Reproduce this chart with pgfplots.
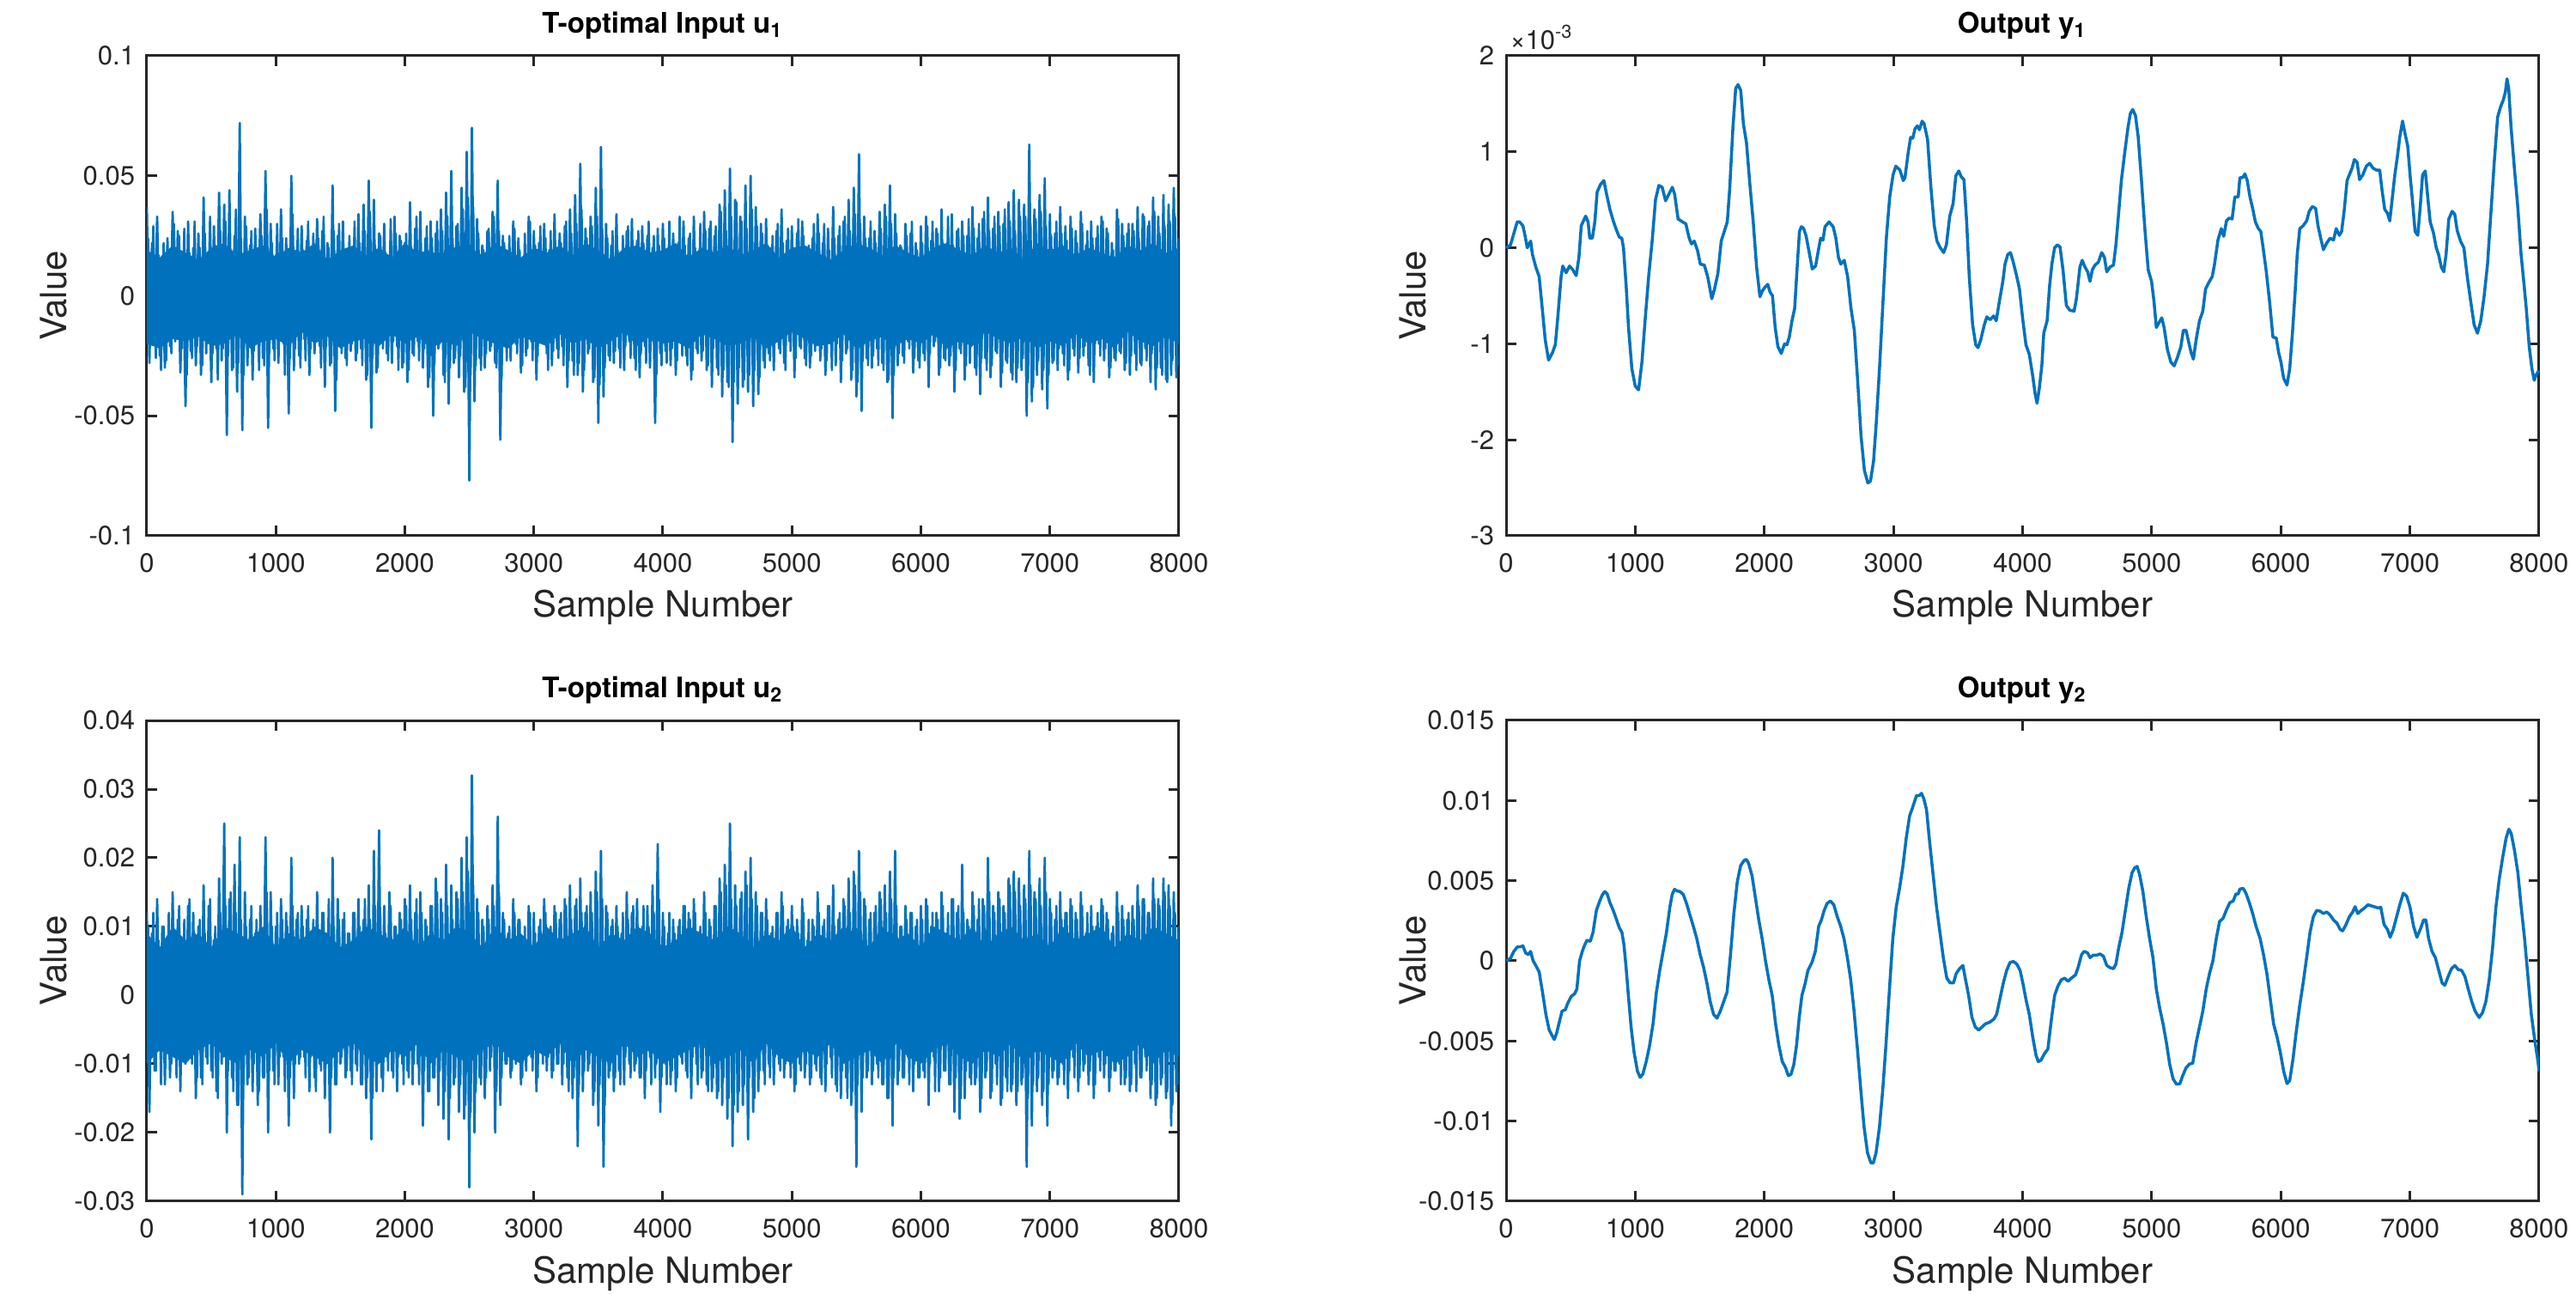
\documentclass[border=0pt]{standalone}
\usepackage{fontspec}
\setmainfont{TeX Gyre Heros}
\usepackage{pgfplots}
\pgfplotsset{compat=1.18}
\definecolor{mblue}{rgb}{0,0.447,0.741}
\definecolor{maxis}{rgb}{0.15,0.15,0.15}
\pgfplotsset{mstyle/.style={
  scale only axis, anchor=south west,
  xmin=0, xmax=8000, xtick={0,1000,...,8000},
  xticklabels={0,1000,2000,3000,4000,5000,6000,7000,8000},
  tick align=inside, major tick length=2.4pt,
  every tick/.style={maxis, line width=0.6pt},
  axis line style={maxis, line width=0.6pt},
  tick label style={font=\fontsize{6.2}{7}\selectfont, text=maxis},
  xticklabel style={anchor=base, yshift=-8.6pt, inner sep=0pt},
  yticklabel style={anchor=east, xshift=-2.6pt, inner sep=0pt},
  every axis title shift=0pt,
  title style={at={(0.5,1.048)}, anchor=base, inner sep=0pt, font=\bfseries\fontsize{6.6}{7.5}\selectfont},
  xlabel style={at={(0.5,-0.17)}, anchor=base, inner sep=0pt, font=\fontsize{8.4}{9}\selectfont, text=maxis},
  every axis y label/.style={at={(axis description cs:-0.078,0.5)}, anchor=base, rotate=90, inner sep=0pt, font=\fontsize{8.4}{9}\selectfont, text=maxis},
  xlabel={Sample Number}, ylabel={Value},
  every axis plot/.append style={mblue, line join=round, mark=none},
}}
\begin{document}
\begin{tikzpicture}
\useasboundingbox (0,0) rectangle (600pt,301.4pt);
% ---------- u1 ----------
\begin{axis}[mstyle, at={(34.2pt,176.6pt)}, width=240.4pt, height=111.8pt,
  ymin=-100, ymax=100, ytick={-100,-50,0,50,100},
  yticklabels={-0.1,-0.05,0,0.05,0.1},
  title={T-optimal Input u\textsubscript{1}}]
\addplot[fill=mblue, draw=none] coordinates {
(0,19)(100,16)(200,21)(300,18)(400,15)(500,20)(600,22)(700,17)(800,19)(900,21)(1000,16)(1100,20)(1200,18)(1300,22)(1400,15)(1500,19)(1600,21)(1700,17)(1800,20)(1900,16)(2000,22)(2100,18)(2200,19)(2300,15)(2400,21)(2500,20)(2600,17)(2700,22)(2800,19)(2900,16)(3000,20)(3100,18)(3200,21)(3300,17)(3400,22)(3500,19)(3600,15)(3700,20)(3800,21)(3900,18)(4000,19)(4100,22)(4200,16)(4300,20)(4400,18)(4500,21)(4600,17)(4700,19)(4800,22)(4900,16)(5000,20)(5100,21)(5200,18)(5300,15)(5400,19)(5500,22)(5600,20)(5700,17)(5800,21)(5900,18)(6000,16)(6100,20)(6200,22)(6300,19)(6400,17)(6500,21)(6600,18)(6700,20)(6800,15)(6900,22)(7000,19)(7100,21)(7200,17)(7300,20)(7400,18)(7500,16)(7600,21)(7700,19)(7800,22)(7900,18)(8000,20)
(8000,-20)(7900,-17)(7800,-21)(7700,-19)(7600,-15)(7500,-22)(7400,-18)(7300,-20)(7200,-16)(7100,-21)(7000,-19)(6900,-22)(6800,-17)(6700,-20)(6600,-18)(6500,-15)(6400,-21)(6300,-19)(6200,-22)(6100,-16)(6000,-20)(5900,-18)(5800,-21)(5700,-17)(5600,-19)(5500,-22)(5400,-16)(5300,-20)(5200,-21)(5100,-18)(5000,-15)(4900,-19)(4800,-22)(4700,-17)(4600,-20)(4500,-21)(4400,-18)(4300,-16)(4200,-22)(4100,-19)(4000,-20)(3900,-17)(3800,-21)(3700,-15)(3600,-19)(3500,-22)(3400,-18)(3300,-20)(3200,-16)(3100,-21)(3000,-19)(2900,-17)(2800,-22)(2700,-20)(2600,-18)(2500,-15)(2400,-21)(2300,-19)(2200,-22)(2100,-17)(2000,-20)(1900,-16)(1800,-21)(1700,-18)(1600,-19)(1500,-22)(1400,-17)(1300,-20)(1200,-15)(1100,-21)(1000,-18)(900,-19)(800,-22)(700,-16)(600,-20)(500,-21)(400,-17)(300,-19)(200,-18)(100,-22)(0,-20)
} -- cycle;
\addplot[line width=0.5pt] table[x expr=\coordindex*20+10, y index=0, header=false, row sep=\\] {
24\\-19\\29\\-26\\17\\-31\\22\\-27\\19\\-24\\30\\-17\\25\\-22\\28\\-33\\18\\-26\\31\\-21\\
20\\-29\\26\\-18\\33\\-24\\21\\-35\\27\\-22\\31\\-25\\19\\-30\\36\\-28\\24\\-33\\29\\-19\\
27\\-23\\18\\-31\\25\\-29\\36\\-24\\22\\-27\\30\\-18\\24\\-33\\19\\-26\\34\\-22\\28\\-30\\
19\\-27\\31\\-22\\26\\-18\\24\\-30\\33\\-21\\20\\-28\\27\\-35\\30\\-24\\18\\-29\\25\\-20\\
31\\-24\\22\\-29\\27\\-33\\35\\-26\\21\\-30\\25\\-22\\18\\-27\\32\\-19\\26\\-31\\23\\-28\\
26\\-31\\20\\-25\\33\\-27\\18\\-22\\29\\-34\\24\\-28\\31\\-20\\27\\-36\\33\\-30\\24\\-26\\
30\\-25\\36\\-38\\41\\-33\\37\\-29\\26\\-31\\19\\-24\\28\\-21\\33\\-30\\27\\-35\\22\\-27\\
25\\-20\\28\\-24\\19\\-29\\26\\-22\\31\\-27\\21\\-25\\29\\-19\\24\\-31\\27\\-23\\20\\-26\\
22\\-29\\31\\-27\\26\\-33\\30\\-28\\36\\-31\\24\\-22\\29\\-34\\33\\-37\\28\\-30\\24\\-27\\
27\\-23\\19\\-30\\25\\-21\\29\\-26\\20\\-31\\27\\-24\\22\\-28\\31\\-19\\25\\-33\\21\\-29\\
24\\-28\\31\\-22\\19\\-27\\33\\-25\\21\\-29\\26\\-31\\20\\-24\\30\\-23\\27\\-29\\31\\-22\\
29\\-33\\35\\-31\\27\\-38\\33\\-36\\39\\-30\\31\\-35\\28\\-33\\36\\-31\\29\\-34\\26\\-30\\
21\\-27\\25\\-19\\30\\-24\\22\\-31\\28\\-23\\19\\-26\\32\\-22\\25\\-29\\21\\-25\\30\\-18\\
26\\-22\\30\\-27\\19\\-31\\24\\-20\\29\\-27\\33\\-22\\27\\-31\\34\\-36\\30\\-27\\24\\-29\\
31\\-25\\22\\-29\\28\\-31\\33\\-35\\30\\-33\\26\\-24\\20\\-28\\25\\-22\\31\\-26\\19\\-30\\
22\\-27\\29\\-24\\31\\-19\\26\\-30\\22\\-27\\33\\-25\\21\\-31\\28\\-24\\25\\-29\\32\\-21\\
28\\-33\\30\\-26\\35\\-31\\27\\-29\\33\\-24\\29\\-32\\36\\-28\\31\\-35\\27\\-30\\33\\-26\\
33\\-36\\30\\-38\\32\\-27\\35\\-31\\29\\-33\\25\\-27\\31\\-22\\26\\-29\\23\\-31\\28\\-25\\
22\\-26\\30\\-21\\27\\-33\\24\\-20\\29\\-25\\31\\-22\\26\\-30\\19\\-27\\32\\-24\\25\\-28\\
30\\-25\\27\\-31\\24\\-29\\33\\-27\\31\\-24\\35\\-30\\26\\-33\\29\\-36\\31\\-27\\33\\-29\\
};
\addplot[line width=0.55pt] table[x expr=\coordindex*20, y index=0, header=false, row sep=\\] {
37\\-28\\22\\-18\\33\\-25\\16\\-30\\24\\-21\\35\\-19\\27\\-32\\14\\-46\\31\\-23\\20\\-29\\
26\\-33\\41\\-24\\18\\-36\\29\\-22\\43\\-27\\38\\-58\\44\\-31\\25\\-40\\72\\-56\\33\\-29\\
21\\-35\\28\\-19\\34\\-26\\52\\-55\\30\\-22\\17\\-28\\36\\-20\\24\\-49\\50\\-31\\19\\-25\\
29\\-18\\23\\-33\\15\\-24\\32\\-21\\27\\-38\\22\\-29\\46\\-48\\25\\-20\\31\\-26\\18\\-23\\
20\\-27\\34\\-22\\38\\-35\\48\\-55\\40\\-32\\26\\-19\\30\\-24\\16\\-28\\33\\-21\\25\\-30\\
22\\-36\\39\\-24\\28\\-19\\35\\-30\\24\\-38\\31\\-50\\26\\-22\\36\\-33\\43\\-45\\52\\-28\\
29\\-34\\45\\-40\\60\\-77\\70\\-44\\32\\-26\\21\\-30\\27\\-23\\35\\-28\\48\\-60\\25\\-21\\
18\\-27\\31\\-20\\24\\-32\\16\\-25\\33\\-19\\27\\-35\\22\\-18\\30\\-24\\19\\-29\\34\\-22\\
26\\-21\\29\\-38\\36\\-27\\42\\-33\\55\\-40\\28\\-24\\33\\-36\\45\\-53\\62\\-42\\30\\-25\\
21\\-28\\34\\-22\\18\\-31\\27\\-19\\32\\-26\\23\\-34\\29\\-21\\25\\-30\\20\\-53\\28\\-24\\
30\\-23\\19\\-29\\26\\-33\\22\\-18\\31\\-25\\24\\-35\\33\\-22\\17\\-27\\35\\-31\\28\\-38\\
25\\-30\\38\\-42\\44\\-36\\53\\-61\\40\\-45\\33\\-38\\46\\-40\\50\\-46\\37\\-41\\30\\-27\\
32\\-24\\20\\-31\\27\\-22\\36\\-28\\23\\-19\\29\\-34\\26\\-21\\31\\-26\\18\\-30\\24\\-23\\
34\\-27\\22\\-33\\28\\-20\\37\\-29\\25\\-36\\31\\-24\\40\\-35\\45\\-42\\59\\-48\\33\\-26\\
24\\-30\\27\\-22\\35\\-28\\38\\-36\\46\\-51\\34\\-29\\21\\-25\\30\\-19\\26\\-32\\22\\-27\\
29\\-24\\33\\-38\\23\\-21\\28\\-33\\36\\-26\\20\\-29\\34\\-40\\27\\-22\\31\\-35\\25\\-28\\
37\\-30\\24\\-41\\32\\-26\\41\\-34\\28\\-23\\35\\-38\\30\\-27\\39\\-32\\44\\-36\\40\\-31\\
38\\-50\\63\\-44\\36\\-33\\42\\-39\\49\\-47\\34\\-28\\26\\-31\\37\\-24\\29\\-35\\33\\-22\\
27\\-32\\35\\-25\\21\\-29\\31\\-36\\24\\-20\\33\\-27\\28\\-34\\22\\-26\\36\\-23\\30\\-31\\
26\\-33\\30\\-24\\37\\-28\\34\\-22\\29\\-36\\41\\-39\\33\\-30\\42\\-35\\38\\-33\\45\\-34\\24\\
};
\end{axis}
% ---------- y1 ----------
\begin{axis}[mstyle, at={(350.8pt,176.6pt)}, width=240.6pt, height=111.8pt,
  ymin=-3, ymax=2, ytick={-3,-2,-1,0,1,2},
  yticklabels={-3,-2,-1,0,1,2}, clip=false,
  title={Output y\textsubscript{1}}]
\addplot[line width=0.7pt] coordinates {
(0,0.0)(34,0.03)(86,0.27)(104,0.27)(130,0.23)(146,0.13)(164,0)(178,0.04)(190,0.07)(204,-0.07)(230,-0.2)(256,-0.3)(282,-0.66)(303,-0.96)(329,-1.17)(360,-1.09)(381,-1.01)(400,-0.73)(426,-0.3)(439,-0.19)(465,-0.26)(491,-0.19)(517,-0.23)(543,-0.29)(564,-0.1)(582,0.23)(616,0.33)(635,0.27)(648,0.1)(668,0.1)(687,0.27)(705,0.58)(731,0.66)(757,0.7)(778,0.56)(804,0.4)(830,0.28)(856,0.18)(877,0.11)(896,0.1)(909,0)(930,-0.4)(948,-0.83)(974,-1.26)(1000,-1.44)(1026,-1.48)(1052,-1.19)(1078,-0.73)(1104,-0.3)(1131,0.07)(1157,0.5)(1183,0.65)(1209,0.63)(1235,0.49)(1261,0.56)(1287,0.63)(1305,0.56)(1332,0.3)(1366,0.27)(1392,0.25)(1418,0.1)(1436,0.04)(1457,0.07)(1483,-0.03)(1504,-0.17)(1535,-0.18)(1561,-0.3)(1593,-0.53)(1614,-0.43)(1640,-0.27)(1666,0.07)(1692,0.18)(1713,0.27)(1731,0.6)(1757,1.26)(1778,1.66)(1796,1.7)(1817,1.64)(1838,1.29)(1862,1.09)(1888,0.66)(1914,0.27)(1940,-0.2)(1966,-0.51)(1984,-0.45)(2005,-0.41)(2026,-0.38)(2044,-0.46)(2063,-0.5)(2084,-0.83)(2105,-1.03)(2131,-1.1)(2157,-1.0)(2175,-1.01)(2193,-0.93)(2214,-0.76)(2235,-0.63)(2253,-0.23)(2272,0.17)(2287,0.22)(2305,0.2)(2324,0.12)(2345,-0.03)(2371,-0.22)(2397,-0.19)(2418,-0.03)(2436,0.1)(2454,0.08)(2470,0.22)(2501,0.27)(2533,0.22)(2554,0.1)(2574,-0.1)(2592,-0.17)(2619,-0.13)(2645,-0.3)(2671,-0.63)(2697,-0.86)(2723,-1.39)(2749,-1.96)(2775,-2.32)(2802,-2.45)(2822,-2.43)(2846,-2.22)(2867,-1.82)(2893,-1.23)(2919,-0.56)(2945,0.1)(2971,0.53)(2997,0.76)(3018,0.85)(3050,0.81)(3076,0.7)(3089,0.73)(3115,1.0)(3133,1.15)(3149,1.14)(3167,1.24)(3185,1.27)(3201,1.23)(3222,1.32)(3238,1.29)(3264,1.13)(3290,0.63)(3316,0.23)(3337,0.07)(3363,0)(3389,-0.05)(3410,0.03)(3436,0.33)(3462,0.46)(3483,0.75)(3506,0.8)(3525,0.74)(3546,0.71)(3567,0.27)(3587,-0.3)(3613,-0.8)(3637,-1.01)(3655,-1.04)(3676,-0.96)(3702,-0.81)(3723,-0.72)(3749,-0.75)(3775,-0.71)(3796,-0.76)(3820,-0.56)(3846,-0.36)(3864,-0.17)(3885,-0.07)(3906,-0.05)(3924,-0.13)(3950,-0.27)(3976,-0.43)(4000,-0.73)(4026,-1.01)(4052,-1.11)(4078,-1.33)(4097,-1.52)(4112,-1.62)(4130,-1.46)(4149,-1.23)(4164,-0.89)(4190,-0.76)(4209,-0.40)(4227,-0.17)(4248,0.0)(4269,0.03)(4290,0.01)(4313,-0.23)(4339,-0.6)(4365,-0.65)(4399,-0.66)(4417,-0.53)(4444,-0.2)(4462,-0.13)(4483,-0.2)(4504,-0.25)(4522,-0.35)(4540,-0.23)(4561,-0.18)(4587,-0.15)(4613,-0.05)(4634,-0.1)(4652,-0.25)(4678,-0.2)(4704,-0.18)(4723,0.03)(4744,0.36)(4765,0.7)(4791,0.99)(4817,1.26)(4835,1.4)(4853,1.44)(4874,1.38)(4895,1.16)(4921,0.7)(4947,0.2)(4973,-0.23)(4999,-0.35)(5018,-0.56)(5036,-0.83)(5057,-0.78)(5078,-0.73)(5096,-0.83)(5122,-1.06)(5148,-1.19)(5174,-1.23)(5200,-1.14)(5226,-1.03)(5245,-0.86)(5266,-0.86)(5286,-0.98)(5305,-1.09)(5323,-1.16)(5344,-0.96)(5370,-0.76)(5396,-0.66)(5417,-0.43)(5443,-0.36)(5469,-0.3)(5487,-0.17)(5513,0.08)(5539,0.2)(5558,0.12)(5579,0.28)(5600,0.31)(5623,0.3)(5644,0.53)(5670,0.53)(5683,0.73)(5704,0.73)(5722,0.77)(5740,0.7)(5761,0.53)(5782,0.41)(5803,0.27)(5826,0.2)(5845,0.17)(5866,-0.03)(5886,-0.23)(5913,-0.56)(5939,-0.93)(5965,-0.94)(5983,-1.09)(6001,-1.19)(6022,-1.36)(6048,-1.43)(6069,-1.26)(6090,-0.89)(6111,-0.46)(6127,-0.07)(6147,0.2)(6173,0.23)(6200,0.28)(6220,0.38)(6244,0.43)(6270,0.41)(6288,0.23)(6309,0.1)(6330,-0.02)(6356,0.05)(6382,0.1)(6408,0.08)(6429,0.2)(6453,0.13)(6471,0.17)(6492,0.4)(6513,0.7)(6531,0.76)(6552,0.83)(6570,0.92)(6591,0.89)(6610,0.71)(6635,0.76)(6662,0.85)(6688,0.88)(6714,0.83)(6740,0.81)(6766,0.81)(6784,0.6)(6805,0.4)(6826,0.36)(6844,0.28)(6862,0.5)(6883,0.76)(6904,0.96)(6922,1.16)(6943,1.32)(6962,1.19)(6983,1.06)(7001,0.76)(7019,0.5)(7040,0.17)(7061,0.13)(7080,0.43)(7098,0.76)(7119,0.8)(7140,0.5)(7157,0.27)(7183,0.15)(7204,0.0)(7222,-0.07)(7243,-0.2)(7262,-0.25)(7280,-0.07)(7301,0.3)(7327,0.38)(7347,0.35)(7366,0.18)(7392,0.07)(7418,0.0)(7444,-0.3)(7471,-0.56)(7497,-0.8)(7523,-0.89)(7549,-0.76)(7575,-0.5)(7601,-0.17)(7627,0.36)(7653,0.89)(7679,1.36)(7700,1.46)(7723,1.54)(7739,1.62)(7752,1.76)(7765,1.66)(7783,1.26)(7809,0.83)(7835,0.43)(7861,-0.07)(7885,-0.4)(7901,-0.63)(7924,-1.03)(7945,-1.26)(7963,-1.38)(7976,-1.33)(7997,-1.28)
};
\node[anchor=base west, inner sep=0pt, text=maxis, font=\fontsize{6.2}{7}\selectfont] at (rel axis cs:0.003,1.0143) {×10\textsuperscript{-3}};
\end{axis}
% ---------- u2 ----------
\begin{axis}[mstyle, at={(34.2pt,21.6pt)}, width=240.4pt, height=112pt,
  ymin=-30, ymax=40, ytick={-30,-20,...,40},
  yticklabels={-0.03,-0.02,-0.01,0,0.01,0.02,0.03,0.04},
  title={T-optimal Input u\textsubscript{2}}]
\addplot[fill=mblue, draw=none] coordinates {
(0,9)(100,7)(200,10)(300,8)(400,9)(500,7)(600,10)(700,9)(800,8)(900,10)(1000,7)(1100,9)(1200,8)(1300,10)(1400,9)(1500,7)(1600,8)(1700,10)(1800,9)(1900,8)(2000,10)(2100,7)(2200,9)(2300,8)(2400,10)(2500,9)(2600,7)(2700,10)(2800,8)(2900,9)(3000,7)(3100,10)(3200,8)(3300,9)(3400,10)(3500,7)(3600,9)(3700,8)(3800,10)(3900,9)(4000,7)(4100,8)(4200,10)(4300,9)(4400,8)(4500,10)(4600,9)(4700,7)(4800,9)(4900,8)(5000,10)(5100,7)(5200,9)(5300,8)(5400,10)(5500,9)(5600,7)(5700,10)(5800,8)(5900,9)(6000,7)(6100,10)(6200,9)(6300,8)(6400,10)(6500,7)(6600,9)(6700,10)(6800,8)(6900,9)(7000,7)(7100,10)(7200,8)(7300,9)(7400,10)(7500,7)(7600,9)(7700,8)(7800,10)(7900,9)(8000,8)
(8000,-9)(7900,-8)(7800,-10)(7700,-7)(7600,-9)(7500,-10)(7400,-8)(7300,-9)(7200,-7)(7100,-10)(7000,-9)(6900,-8)(6800,-10)(6700,-7)(6600,-9)(6500,-8)(6400,-10)(6300,-9)(6200,-7)(6100,-8)(6000,-10)(5900,-9)(5800,-7)(5700,-10)(5600,-8)(5500,-9)(5400,-10)(5300,-7)(5200,-9)(5100,-8)(5000,-10)(4900,-9)(4800,-7)(4700,-10)(4600,-8)(4500,-9)(4400,-10)(4300,-7)(4200,-8)(4100,-9)(4000,-10)(3900,-8)(3800,-9)(3700,-7)(3600,-10)(3500,-9)(3400,-8)(3300,-10)(3200,-7)(3100,-9)(3000,-8)(2900,-10)(2800,-9)(2700,-7)(2600,-8)(2500,-10)(2400,-9)(2300,-8)(2200,-10)(2100,-7)(2000,-9)(1900,-8)(1800,-10)(1700,-9)(1600,-7)(1500,-8)(1400,-10)(1300,-9)(1200,-8)(1100,-10)(1000,-7)(900,-9)(800,-8)(700,-10)(600,-9)(500,-7)(400,-8)(300,-10)(200,-9)(100,-8)(0,-10)
} -- cycle;
\addplot[line width=0.5pt] table[x expr=\coordindex*20+10, y index=0, header=false, row sep=\\] {
10\\-9\\12\\-11\\8\\-13\\10\\-8\\12\\-10\\9\\-12\\13\\-9\\11\\-8\\14\\-10\\9\\-12\\
11\\-13\\9\\-10\\14\\-12\\10\\-15\\12\\-9\\13\\-11\\15\\-14\\12\\-16\\11\\-13\\10\\-12\\
13\\-10\\11\\-14\\9\\-12\\15\\-11\\10\\-13\\12\\-9\\11\\-14\\10\\-12\\13\\-10\\12\\-9\\
10\\-12\\13\\-9\\11\\-14\\9\\-11\\12\\-10\\14\\-12\\10\\-13\\11\\-9\\12\\-11\\9\\-13\\
12\\-11\\10\\-13\\14\\-12\\11\\-15\\13\\-10\\12\\-14\\9\\-11\\13\\-12\\10\\-9\\11\\-13\\
13\\-12\\11\\-10\\14\\-13\\12\\-11\\10\\-14\\13\\-12\\15\\-11\\12\\-14\\13\\-15\\11\\-12\\
14\\-13\\15\\-16\\18\\-17\\16\\-14\\12\\-13\\10\\-12\\11\\-9\\13\\-14\\15\\-12\\11\\-10\\
10\\-11\\12\\-9\\11\\-12\\10\\-8\\12\\-11\\9\\-12\\11\\-10\\12\\-9\\10\\-11\\12\\-10\\
12\\-10\\13\\-14\\11\\-12\\14\\-13\\12\\-11\\13\\-10\\12\\-14\\15\\-13\\14\\-16\\12\\-11\\
11\\-12\\10\\-13\\12\\-9\\11\\-12\\13\\-10\\9\\-12\\13\\-11\\10\\-13\\12\\-10\\14\\-12\\
10\\-13\\12\\-11\\9\\-12\\11\\-10\\13\\-12\\11\\-9\\12\\-13\\10\\-11\\12\\-14\\10\\-12\\
13\\-14\\15\\-12\\16\\-15\\14\\-16\\13\\-14\\15\\-13\\16\\-12\\14\\-15\\13\\-11\\12\\-13\\
11\\-12\\10\\-9\\12\\-11\\13\\-10\\11\\-12\\10\\-13\\9\\-11\\12\\-10\\11\\-12\\10\\-11\\
12\\-13\\11\\-10\\13\\-12\\10\\-14\\12\\-11\\13\\-15\\12\\-14\\16\\-13\\15\\-12\\13\\-11\\
12\\-11\\13\\-12\\14\\-13\\12\\-15\\14\\-12\\13\\-11\\10\\-12\\11\\-13\\12\\-10\\11\\-12\\
11\\-12\\13\\-10\\12\\-14\\11\\-12\\13\\-11\\12\\-13\\14\\-12\\13\\-15\\12\\-11\\10\\-13\\
13\\-12\\14\\-15\\13\\-11\\15\\-14\\12\\-13\\14\\-15\\12\\-14\\16\\-13\\15\\-14\\13\\-12\\
14\\-15\\16\\-13\\14\\-12\\13\\-14\\15\\-13\\12\\-11\\13\\-12\\11\\-13\\12\\-11\\13\\-12\\
11\\-12\\13\\-10\\12\\-11\\10\\-13\\12\\-11\\13\\-10\\11\\-12\\10\\-11\\12\\-13\\11\\-12\\
12\\-13\\11\\-14\\13\\-12\\14\\-11\\12\\-13\\14\\-15\\13\\-12\\15\\-14\\13\\-16\\12\\-13\\
};
\addplot[line width=0.55pt] table[x expr=\coordindex*20, y index=0, header=false, row sep=\\] {
12\\-17\\9\\-11\\14\\-8\\10\\-13\\7\\-12\\15\\-9\\11\\-14\\8\\-10\\13\\-7\\12\\-15\\
10\\-12\\16\\-9\\13\\-11\\8\\-14\\17\\-10\\25\\-20\\14\\-12\\19\\-16\\23\\-29\\15\\-13\\
11\\-14\\9\\-16\\13\\-12\\23\\-20\\15\\-11\\10\\-13\\14\\-9\\12\\-19\\20\\-15\\11\\-10\\
13\\-9\\11\\-14\\8\\-12\\15\\-10\\12\\-15\\9\\-20\\20\\-13\\14\\-10\\11\\-12\\9\\-11\\
12\\-10\\14\\-13\\11\\-15\\16\\-21\\21\\-14\\24\\-12\\13\\-9\\15\\-11\\10\\-14\\12\\-10\\
14\\-11\\16\\-13\\12\\-10\\15\\-19\\11\\-14\\13\\-12\\17\\-16\\14\\-18\\19\\-21\\16\\-13\\
15\\-17\\20\\-18\\23\\-28\\32\\-20\\14\\-12\\11\\-15\\13\\-11\\16\\-20\\26\\-16\\12\\-10\\
9\\-12\\14\\-10\\11\\-13\\8\\-11\\13\\-9\\12\\-14\\10\\-8\\14\\-11\\9\\-12\\13\\-10\\
11\\-13\\14\\-12\\16\\-15\\13\\-22\\17\\-14\\12\\-11\\15\\-16\\18\\-19\\21\\-25\\13\\-12\\
10\\-14\\13\\-11\\9\\-13\\15\\-10\\12\\-11\\14\\-12\\10\\-15\\13\\-9\\16\\-12\\22\\-17\\
12\\-10\\9\\-13\\11\\-14\\10\\-9\\13\\-11\\12\\-15\\14\\-10\\8\\-12\\15\\-13\\11\\-14\\
13\\-15\\17\\-16\\19\\-18\\25\\-22\\16\\-17\\14\\-16\\18\\-21\\20\\-17\\15\\-14\\12\\-11\\
14\\-10\\9\\-13\\12\\-10\\15\\-12\\10\\-9\\13\\-14\\11\\-10\\14\\-12\\8\\-13\\11\\-10\\
15\\-12\\10\\-14\\13\\-9\\16\\-13\\11\\-15\\14\\-12\\17\\-16\\18\\-25\\21\\-17\\14\\-12\\
11\\-13\\12\\-10\\15\\-13\\16\\-15\\18\\-19\\21\\-13\\10\\-12\\13\\-9\\12\\-14\\10\\-12\\
13\\-11\\14\\-16\\10\\-9\\12\\-14\\15\\-11\\9\\-13\\14\\-17\\12\\-18\\19\\-15\\11\\-12\\
15\\-13\\11\\-17\\14\\-12\\20\\-15\\13\\-10\\15\\-16\\13\\-12\\17\\-14\\18\\-16\\17\\-13\\
16\\-25\\21\\-19\\15\\-14\\17\\-16\\20\\-19\\14\\-12\\11\\-13\\15\\-10\\12\\-15\\14\\-9\\
12\\-14\\15\\-11\\9\\-13\\13\\-15\\10\\-9\\14\\-12\\12\\-14\\9\\-11\\15\\-10\\13\\-13\\
11\\-14\\13\\-10\\16\\-12\\14\\-9\\12\\-15\\17\\-16\\14\\-13\\17\\-15\\16\\-19\\15\\-14\\10\\
};
\end{axis}
% ---------- y2 ----------
\begin{axis}[mstyle, at={(350.8pt,21.6pt)}, width=240.6pt, height=112pt,
  ymin=-15, ymax=15, ytick={-15,-10,...,15},
  yticklabels={-0.015,-0.01,-0.005,0,0.005,0.01,0.015},
  title={Output y\textsubscript{2}}]
\addplot[line width=0.7pt] coordinates {
(0,0)(34,0.16)(60,0.59)(86,0.86)(112,0.88)(130,0.94)(151,0.49)(172,0.39)(190,0.59)(209,0.0)(230,-0.29)(256,-0.69)(282,-1.96)(308,-3.34)(334,-4.32)(360,-4.72)(373,-4.91)(391,-4.52)(412,-3.83)(433,-3.14)(459,-3.05)(477,-2.65)(504,-2.22)(530,-2.06)(548,-1.77)(569,0)(590,0.59)(608,0.98)(626,1.28)(652,1.22)(673,1.77)(699,3.14)(725,3.73)(746,4.13)(764,4.32)(783,4.17)(804,3.63)(830,3.14)(856,2.55)(877,2.06)(897,1.77)(913,0.98)(929,-0.39)(947,-2.16)(968,-4.13)(991,-5.7)(1017,-6.88)(1038,-7.27)(1059,-7.07)(1085,-6.29)(1111,-5.3)(1138,-3.93)(1164,-1.96)(1190,-0.59)(1216,0.59)(1242,1.77)(1268,3.34)(1286,4.13)(1304,4.46)(1325,4.36)(1347,4.32)(1373,4.13)(1399,3.54)(1424,2.85)(1450,2.16)(1477,1.38)(1503,0.39)(1529,-0.39)(1555,-1.38)(1581,-2.55)(1607,-3.34)(1633,-3.58)(1659,-3.14)(1685,-2.55)(1711,-1.96)(1738,0.39)(1764,2.95)(1790,4.91)(1816,5.93)(1842,6.25)(1860,6.33)(1878,6.09)(1905,5.3)(1931,3.93)(1957,2.55)(1983,1.38)(2009,0)(2035,-1.18)(2061,-2.16)(2087,-3.93)(2113,-5.3)(2139,-6.29)(2165,-6.68)(2186,-7.17)(2207,-7.07)(2228,-6.48)(2249,-5.3)(2270,-3.54)(2291,-2.16)(2317,-1.38)(2338,-0.59)(2369,-0.1)(2395,0.59)(2421,2.16)(2442,2.55)(2463,3.14)(2486,3.58)(2512,3.73)(2538,3.5)(2565,2.75)(2591,2.16)(2617,1.38)(2643,0.2)(2669,-1.18)(2695,-3.14)(2721,-5.5)(2747,-8.06)(2773,-10.41)(2799,-11.98)(2825,-12.61)(2844,-12.61)(2865,-11.98)(2891,-10.41)(2917,-8.06)(2943,-5.11)(2969,-1.77)(2995,1.38)(3021,3.34)(3047,4.52)(3073,5.89)(3099,7.66)(3125,9.04)(3151,9.63)(3178,10.31)(3199,10.31)(3217,10.45)(3235,10.12)(3256,9.43)(3282,7.27)(3308,5.3)(3334,3.34)(3360,1.77)(3386,0.2)(3413,-1.08)(3439,-1.38)(3465,-1.38)(3486,-0.79)(3512,-0.49)(3538,-0.29)(3556,-1.08)(3582,-2.16)(3608,-3.54)(3634,-4.13)(3660,-4.32)(3686,-4.13)(3712,-3.93)(3746,-3.83)(3778,-3.63)(3799,-3.34)(3825,-2.36)(3851,-1.38)(3877,-0.59)(3903,-0.1)(3929,-0.04)(3955,-0.2)(3981,-0.6)(4005,-1.5)(4026,-2.4)(4052,-3.34)(4078,-4.72)(4104,-5.89)(4122,-6.29)(4143,-6.19)(4169,-5.8)(4196,-5.5)(4222,-3.73)(4248,-2.16)(4274,-1.57)(4300,-1.18)(4326,-1.08)(4352,-1.28)(4378,-1.08)(4410,-0.88)(4431,-0.39)(4457,0.39)(4477,0.59)(4504,0.49)(4522,0.2)(4548,0.35)(4574,0.35)(4600,0.43)(4626,0.29)(4652,-0.29)(4678,-0.43)(4704,-0.49)(4723,-0.2)(4744,0.79)(4770,1.77)(4796,3.14)(4822,4.52)(4848,5.5)(4869,5.8)(4887,5.89)(4906,5.4)(4932,4.32)(4958,2.75)(4984,1.38)(5010,0.2)(5036,-1.77)(5062,-2.95)(5088,-3.93)(5114,-5.11)(5140,-6.48)(5166,-7.37)(5192,-7.7)(5219,-7.66)(5240,-7.17)(5266,-6.68)(5292,-6.44)(5318,-6.39)(5344,-5.11)(5370,-4.13)(5396,-3.14)(5422,-1.77)(5448,-0.79)(5474,0)(5500,1.38)(5526,2.46)(5553,2.65)(5579,3.18)(5605,3.63)(5631,3.73)(5652,4.17)(5670,4.17)(5683,4.48)(5709,4.52)(5730,4.22)(5756,3.63)(5782,2.95)(5808,2.16)(5840,1.38)(5866,0.39)(5892,-0.79)(5918,-2.36)(5944,-3.93)(5970,-4.72)(5996,-5.7)(6022,-6.88)(6048,-7.66)(6069,-7.47)(6095,-6.09)(6121,-4.32)(6147,-2.75)(6173,-1.38)(6200,0.2)(6226,1.77)(6252,2.75)(6278,3.14)(6304,3.1)(6330,2.95)(6356,3.05)(6382,2.85)(6408,2.55)(6434,2.36)(6460,1.96)(6479,1.87)(6505,2.26)(6531,2.75)(6557,3.05)(6575,3.38)(6596,2.95)(6622,3.14)(6649,3.3)(6675,3.5)(6696,3.44)(6722,3.38)(6753,3.3)(6774,3.34)(6800,2.26)(6826,1.96)(6847,1.47)(6871,1.96)(6897,2.75)(6923,3.54)(6949,4.22)(6975,4.03)(7001,3.34)(7028,2.16)(7054,1.47)(7080,1.96)(7106,2.55)(7124,2.55)(7145,1.38)(7171,0.59)(7197,0.2)(7223,-0.59)(7249,-1.38)(7270,-1.53)(7296,-0.98)(7322,-0.49)(7348,-0.29)(7374,-0.55)(7400,-0.59)(7426,-0.98)(7452,-1.77)(7479,-2.55)(7505,-3.14)(7536,-3.54)(7562,-3.24)(7588,-2.55)(7614,-1.18)(7640,0.79)(7666,3.34)(7692,5.11)(7719,6.48)(7745,7.66)(7766,8.21)(7784,7.96)(7810,6.88)(7836,5.5)(7862,3.34)(7888,1.38)(7914,-0.98)(7940,-3.34)(7966,-4.91)(7992,-6.29)(8000,-6.88)
};
\end{axis}
\end{tikzpicture}
\end{document}
